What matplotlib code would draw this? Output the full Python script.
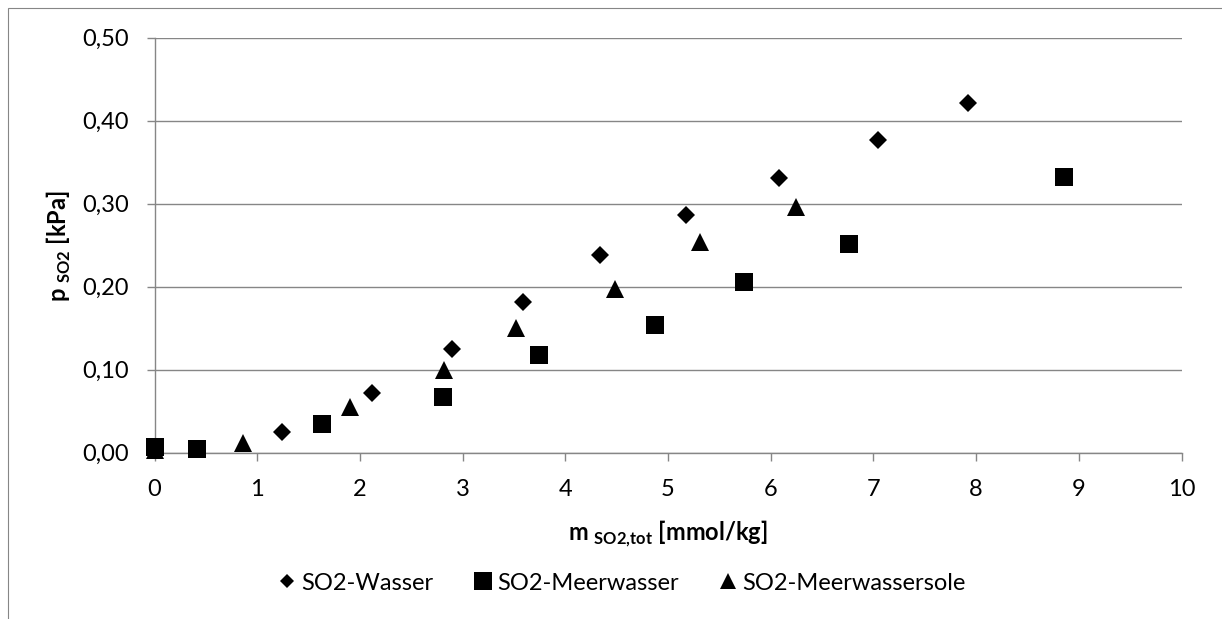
import matplotlib
matplotlib.use("Agg")
import matplotlib.pyplot as plt
from matplotlib.lines import Line2D
from matplotlib.patches import Rectangle

# SO2 partial pressure vs. total SO2 molality
wasser_x = [1.24, 2.12, 2.90, 3.59, 4.34, 5.18, 6.08, 7.04, 7.92]
wasser_y = [0.025, 0.072, 0.125, 0.182, 0.238, 0.286, 0.331, 0.377, 0.421]

meer_x = [0.0, 0.41, 1.63, 2.81, 3.74, 4.87, 5.74, 6.76, 8.86]
meer_y = [0.007, 0.004, 0.034, 0.067, 0.117, 0.154, 0.205, 0.251, 0.332]

sole_x = [0.0, 0.86, 1.90, 2.82, 3.52, 4.48, 5.31, 6.25]
sole_y = [0.003, 0.011, 0.055, 0.099, 0.150, 0.197, 0.254, 0.296]

series_names = ["SO2-Wasser", "SO2-Meerwasser", "SO2-Meerwassersole"]
x_ticks = list(range(0, 11))
y_ticks = [0.0, 0.1, 0.2, 0.3, 0.4, 0.5]
y_tick_labels = ["0,00", "0,10", "0,20", "0,30", "0,40", "0,50"]

FONT = "Lato"
FS = 17
GRAY = "#868686"

plt.rcParams["font.family"] = [FONT, "DejaVu Sans"]
plt.rcParams["mathtext.fontset"] = "custom"
plt.rcParams["mathtext.rm"] = FONT
plt.rcParams["mathtext.bf"] = FONT + ":bold"

W, H = 1222, 619
fig = plt.figure(figsize=(W / 100, H / 100), dpi=100)

# outer chart frame (extends past the right and bottom edges)
fig.add_artist(Rectangle((8 / W, -0.1), 1.2, 1.1 - 8 / H, transform=fig.transFigure,
                         fill=False, edgecolor=GRAY, linewidth=0.8, clip_on=False))

left, right, top, bottom = 154.5, 1181.5, 37.7, 452.5
ax = fig.add_axes([left / W, 1 - bottom / H, (right - left) / W, (bottom - top) / H])

ax.set_xlim(0, 10)
ax.set_ylim(0, 0.5)
ax.set_xticks(x_ticks)
ax.set_xticklabels([str(t) for t in x_ticks])
ax.set_yticks(y_ticks)
ax.set_yticklabels(y_tick_labels)

for s in ("top", "right"):
    ax.spines[s].set_visible(False)
for s in ("left", "bottom"):
    ax.spines[s].set_color(GRAY)
    ax.spines[s].set_linewidth(1.0)

ax.yaxis.grid(True, color=GRAY, linewidth=1.0)
ax.set_axisbelow(True)
ax.tick_params(axis="both", direction="out", length=5.8, width=1.0, color=GRAY,
               labelsize=FS, labelcolor="black")
ax.tick_params(axis="x", pad=13)
ax.tick_params(axis="y", pad=12.5)

kw = dict(linestyle="none", color="black", markeredgewidth=0, clip_on=False, zorder=5)
ax.plot(wasser_x, wasser_y, marker="D", markersize=9.2, **kw)
ax.plot(meer_x, meer_y, marker="s", markersize=13.5, **kw)
ax.plot(sole_x, sole_y, marker="^", markersize=13, **kw)

# axis titles
fig.text(667.8 / W, 1 - 540 / H, r"m $_{\mathbf{SO2{,}tot}}$ [mmol/kg]",
         fontsize=FS, fontweight="bold", ha="center", va="baseline")
fig.text(67 / W, 1 - 246 / H, r"p $_{\mathbf{SO2}}$ [kPa]",
         fontsize=FS, fontweight="bold", ha="center", va="baseline",
         rotation=90, rotation_mode="anchor")

handles = [
    Line2D([], [], linestyle="none", marker="D", markersize=7.6, color="black", markeredgewidth=0),
    Line2D([], [], linestyle="none", marker="s", markersize=12.5, color="black", markeredgewidth=0),
    Line2D([], [], linestyle="none", marker="^", markersize=11, color="black", markeredgewidth=0),
]
fig.legend(handles, series_names, loc="center", bbox_to_anchor=(621.5 / W, 1 - 583 / H),
           ncol=3, frameon=False, fontsize=FS, handlelength=0.8, handletextpad=0.2,
           columnspacing=1.7, borderpad=0, borderaxespad=0)

fig.savefig("out.png", dpi=100)
